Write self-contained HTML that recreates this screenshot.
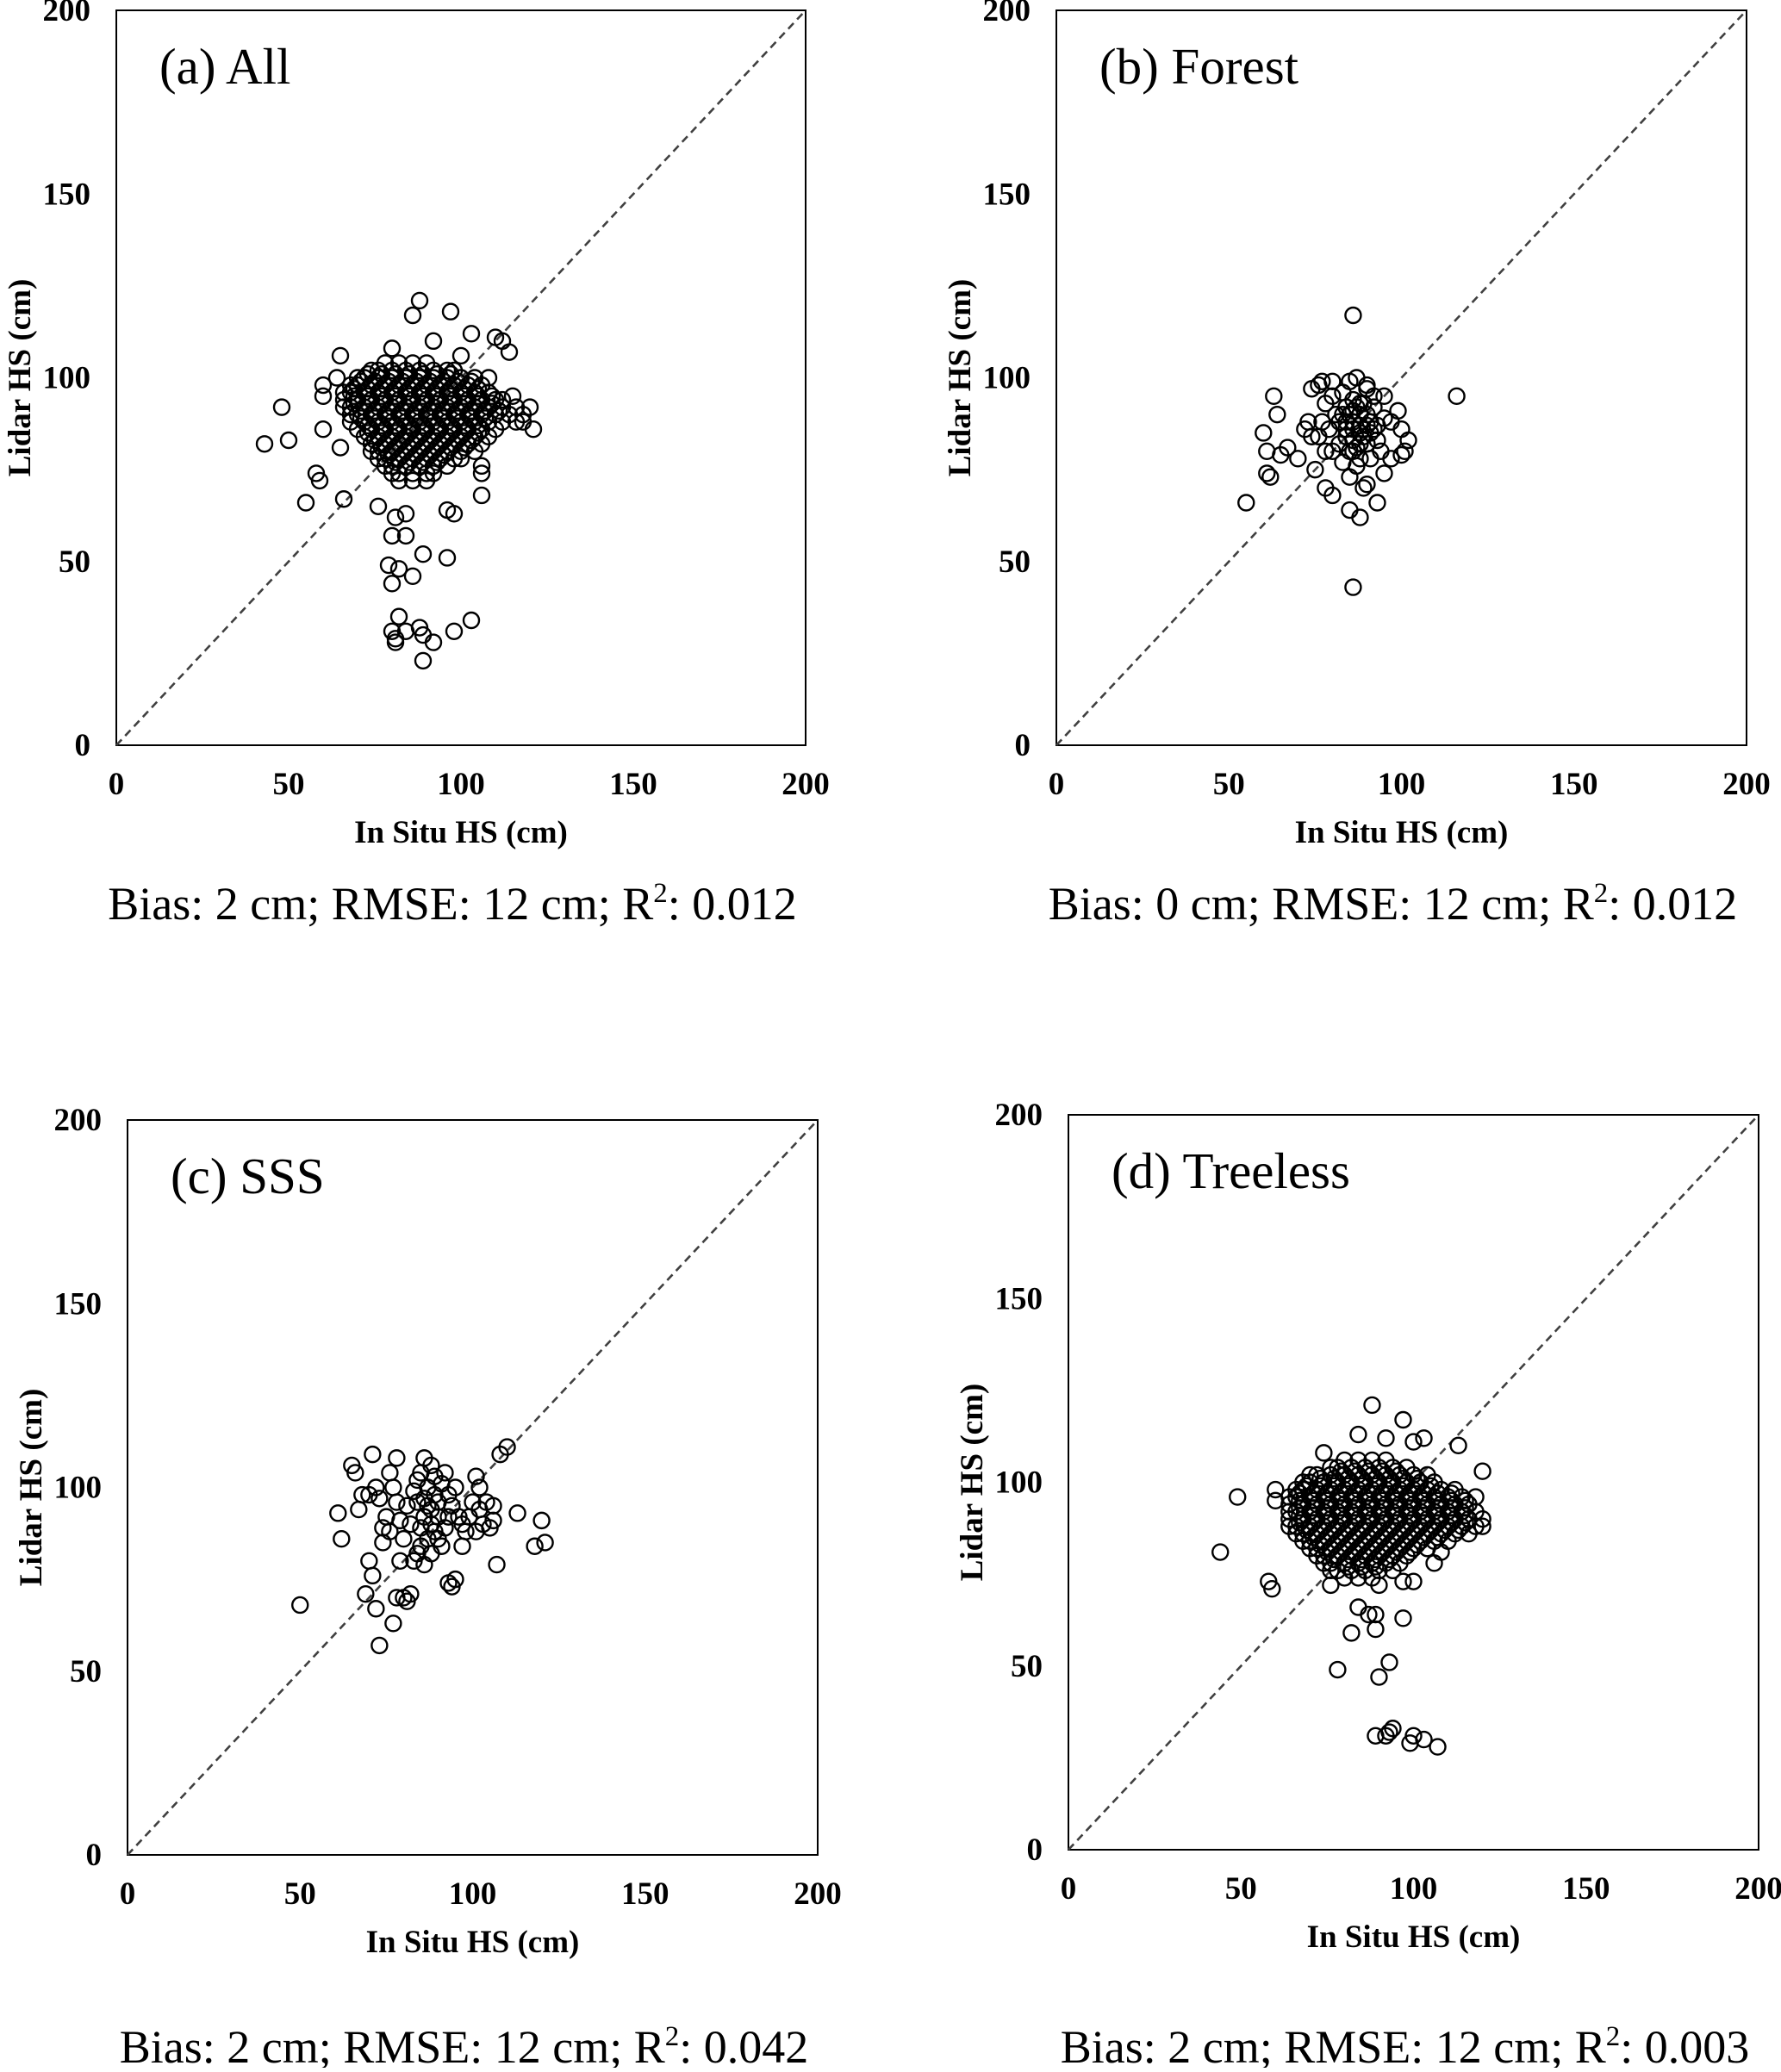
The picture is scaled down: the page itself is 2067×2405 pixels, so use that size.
<!DOCTYPE html>
<html><head><meta charset="utf-8"><style>
html,body{margin:0;padding:0;background:#fff;}
svg text{font-family:"Liberation Serif",serif;}
.tick{font-weight:bold;font-size:37px;}
.atitle{font-weight:bold;font-size:37px;}
.plabel{font-size:59px;}
.stats{font-size:54px;}
</style></head><body>
<svg id="fig" width="2067" height="2400" viewBox="0 0 2067 2400" xmlns="http://www.w3.org/2000/svg"></svg>
<script>
const ticks = [0, 50, 100, 150, 200];
const panelLabels = ["(a) All", "(b) Forest", "(c) SSS", "(d) Treeless"];
const statsBias = ["2", "0", "2", "2"];
const statsR2 = ["0.012", "0.012", "0.042", "0.003"];

function rows(spec){const o=[];spec.forEach(r=>r[1].forEach(x=>o.push([x,r[0]])));return o;}

const dataAll = rows([
 [104,[78,82,86,90]],
 [102,[74,76,80,84,88,92,96,98]],
 [100,[70,72,76,80,84,88,92,96,100,104]],
 [98,[68,70,74,78,82,86,90,94,98,102,106]],
 [96,[66,68,72,76,80,84,88,92,96,100,104,108]],
 [94,[66,70,74,78,82,86,90,94,98,102,106,110,112]],
 [92,[66,68,72,76,80,84,88,92,96,100,104,108,112,116]],
 [90,[68,70,74,78,82,86,90,94,98,102,106,110,114,118]],
 [88,[68,72,76,80,84,88,92,96,100,104,108,112,116]],
 [86,[70,74,78,82,86,90,94,98,102,106,110]],
 [84,[72,76,80,84,88,92,96,100,104,108]],
 [82,[74,78,82,86,90,94,98,102,106]],
 [80,[74,76,80,84,88,92,96,100,104]],
 [78,[76,78,82,86,90,94,98,100]],
 [76,[78,80,84,88,92,96]],
 [74,[80,82,86,90,92]],
 [72,[82,86,90]],
 [101,[73,77,81,85,89,93,97]],
 [99,[71,75,79,83,87,91,95,99,103]],
 [97,[69,73,77,81,85,89,93,97,101,105]],
 [95,[69,73,77,81,85,89,93,97,101,105,109]],
 [93,[69,73,77,81,85,89,93,97,101,105,109]],
 [91,[71,75,79,83,87,91,95,99,103,107,111]],
 [89,[71,75,79,83,87,91,95,99,103,107]],
 [87,[73,77,81,85,89,93,97,101,105]],
 [85,[73,77,81,85,89,93,97,101,105]],
 [83,[75,79,83,87,91,95,99,103]],
 [81,[77,81,85,89,93,97,101]],
 [79,[79,83,87,91,95]],
 [77,[81,85,89,93]]
]).concat([[43,82],[48,92],[50,83],[55,66],[58,74],[59,72],[60,86],[60,95],[60,98],[65,106],[66,67],[65,81],[88,121],[86,117],[97,118],[103,112],[112,110],[114,107],[110,111],[121,86],[118,88],[120,92],[106,76],[106,74],[106,68],[96,64],[98,63],[84,63],[81,62],[80,57],[84,57],[79,49],[80,44],[82,48],[86,46],[89,52],[96,51],[80,31],[82,35],[81,29],[81,28],[84,31],[88,32],[89,30],[92,28],[98,31],[103,34],[89,23],[76,65],[80,108],[92,110],[100,106],[64,100],[115,95],[108,100]]);

const dataForest = [[86,117],[116,95],[86,43],[55,66],[61,74],[62,73],[60,85],[63,95],[61,80],[64,90],[65,79],[67,81],[70,78],[72,86],[73,88],[74,97],[76,98],[77,99],[75,75],[78,70],[80,68],[85,64],[88,62],[89,70],[90,71],[93,66],[95,74],[97,78],[100,79],[101,80],[102,83],[100,86],[99,91],[93,87],[95,95],[92,92],[90,97],[87,100],[85,99],[83,96],[80,95],[78,93],[77,88],[76,84],[79,86],[81,90],[84,92],[86,88],[88,85],[90,82],[85,80],[82,82],[80,80],[83,77],[87,76],[91,78],[93,83],[95,89],[89,93],[86,94],[84,86],[82,88],[86,83],[88,90],[91,88],[78,80],[74,84],[90,98],[94,80],[85,73],[88,78],[92,95],[80,99],[97,88],[84,84],[86,86],[88,87],[90,90],[87,92],[85,90],[89,84],[87,81],[91,85],[83,90],[86,91],[88,93],[90,87],[92,86],[84,88],[86,80],[88,82]];

const dataSSS = [[50,68],[61,93],[62,86],[65,106],[66,104],[67,94],[68,98],[70,98],[71,109],[72,100],[73,97],[73,57],[72,67],[69,71],[70,80],[71,76],[74,89],[74,85],[75,92],[76,104],[77,100],[78,108],[77,63],[78,70],[80,70],[81,69],[82,71],[79,80],[80,86],[82,90],[81,95],[83,99],[84,102],[85,104],[86,108],[87,100],[88,106],[89,103],[90,96],[92,104],[93,98],[94,95],[95,100],[96,92],[97,90],[98,88],[100,96],[101,103],[102,94],[104,96],[105,89],[106,91],[107,79],[108,109],[110,111],[113,93],[118,84],[120,91],[121,85],[93,74],[94,73],[95,75],[86,92],[87,95],[88,90],[89,88],[90,86],[85,84],[84,82],[83,80],[86,79],[88,82],[91,84],[92,89],[93,92],[84,96],[86,97],[88,94],[90,92],[99,92],[101,88],[103,90],[97,84],[78,96],[76,88],[79,91],[85,89],[87,86],[89,98],[91,101],[102,100],[106,95]];

const dataTreeless = rows([
 [106,[80,84,88,92]],
 [104,[76,78,82,86,90,94,98]],
 [102,[70,72,76,80,84,88,92,96,100,104]],
 [100,[68,70,74,78,82,86,90,94,98,102,106]],
 [98,[66,68,72,76,80,84,88,92,96,100,104,108,112]],
 [96,[64,66,70,74,78,82,86,90,94,98,102,106,110,114]],
 [94,[64,68,72,76,80,84,88,92,96,100,104,108,112,116]],
 [92,[64,66,70,74,78,82,86,90,94,98,102,106,110,114,118]],
 [90,[64,68,72,76,80,84,88,92,96,100,104,108,112,116,120]],
 [88,[64,66,70,74,78,82,86,90,94,98,102,106,110,114,118,120]],
 [86,[66,68,72,76,80,84,88,92,96,100,104,108,112,116]],
 [84,[68,70,74,78,82,86,90,94,98,102,106,110]],
 [82,[70,72,76,80,84,88,92,96,100,104]],
 [80,[72,74,78,82,86,90,94,98]],
 [78,[74,76,80,84,88,92,96]],
 [76,[76,78,82,86,90,94]],
 [74,[80,84,88]],
 [103,[79,83,87,91,95]],
 [101,[73,77,81,85,89,93,97,101]],
 [99,[69,73,77,81,85,89,93,97,101,105]],
 [97,[67,71,75,79,83,87,91,95,99,103,107,111]],
 [95,[67,71,75,79,83,87,91,95,99,103,107,111,115]],
 [93,[67,71,75,79,83,87,91,95,99,103,107,111,115]],
 [91,[67,71,75,79,83,87,91,95,99,103,107,111,115]],
 [89,[67,71,75,79,83,87,91,95,99,103,107,111,115]],
 [87,[69,73,77,81,85,89,93,97,101,105,109,113]],
 [85,[71,75,79,83,87,91,95,99,103,107]],
 [83,[73,77,81,85,89,93,97,101]],
 [81,[75,79,83,87,91,95,99]],
 [79,[77,81,85,89,93]],
 [77,[81,85,89]]
]).concat([[44,81],[49,96],[58,73],[59,71],[60,98],[60,95],[88,121],[97,117],[84,113],[92,112],[103,112],[113,110],[100,111],[120,103],[118,96],[106,78],[108,81],[97,73],[100,73],[84,66],[87,64],[89,60],[82,59],[89,64],[97,63],[78,49],[90,47],[93,51],[89,31],[92,31],[93,32],[94,33],[99,29],[100,31],[103,30],[107,28],[74,108],[76,72],[90,72]]);

const panelData = [dataAll, dataForest, dataSSS, dataTreeless];
const boxes = [
 {x0:135,x1:935,y0:865,y1:12,sy:1049},
 {x0:1226,x1:2027,y0:865,y1:12,sy:1049},
 {x0:148,x1:949,y0:2153,y1:1300,sy:2376},
 {x0:1240,x1:2041,y0:2147,y1:1294,sy:2376}
];
const NS="http://www.w3.org/2000/svg";
const svg=document.getElementById('fig');
function mk(tag,attrs,parent,txt){const e=document.createElementNS(NS,tag);for(const k in attrs)e.setAttribute(k,attrs[k]);if(txt!==undefined)e.textContent=txt;parent.appendChild(e);return e;}

boxes.forEach((b,i)=>{
 const sx=v=>b.x0+(b.x1-b.x0)*v/200;
 const sy=v=>b.y0+(b.y1-b.y0)*v/200;
 const g=mk('g',{},svg);
 
 
 const fr=mk('rect',{x:b.x0,y:b.y1,width:b.x1-b.x0,height:b.y0-b.y1,fill:'none',stroke:'#000','stroke-width':2},g);
 
 
 const dl=mk('line',{x1:sx(0),y1:sy(0),x2:sx(200),y2:sy(200),stroke:'#404040','stroke-width':2.6,'stroke-dasharray':'9,6'},g);
 
 
 ticks.forEach(t=>{
  const yt=mk('text',{x:b.x0-30,y:sy(t)+12,'text-anchor':'end',class:'tick'},g,String(t));
  
  
  const xt=mk('text',{x:sx(t),y:b.y0+57,'text-anchor':'middle',class:'tick'},g,String(t));
  
  
 });
 const xa=mk('text',{x:(b.x0+b.x1)/2,y:b.y0+113,'text-anchor':'middle',class:'atitle'},g,'In Situ HS (cm)');
 
 
 const yx=b.x0-100, ym=(b.y0+b.y1)/2;
 const ya=mk('text',{x:yx,y:ym,'text-anchor':'middle',class:'atitle',transform:'rotate(-90 '+yx+' '+ym+')'},g,'Lidar HS (cm)');
 
 
 const pl=mk('text',{x:b.x0+50,y:b.y1+85,class:'plabel'},g,panelLabels[i]);
 
 
 const pts=mk('g',{fill:'none',stroke:'#000','stroke-width':2.4},g);
 
 
 panelData[i].forEach(p=>{
  const c=mk('circle',{cx:sx(p[0]),cy:sy(p[1]),r:9},pts);
  
  
 });
 const st=mk('text',{x:(b.x0+b.x1)/2-10,y:b.sy+18,'text-anchor':'middle',class:'stats'},svg);
 
 
 mk('tspan',{},st,'Bias: '+statsBias[i]+' cm; RMSE: 12 cm; R');
 mk('tspan',{dy:-20,'font-size':33},st,'2');
 mk('tspan',{dy:20},st,': '+statsR2[i]);
});
</script>
</body></html>
